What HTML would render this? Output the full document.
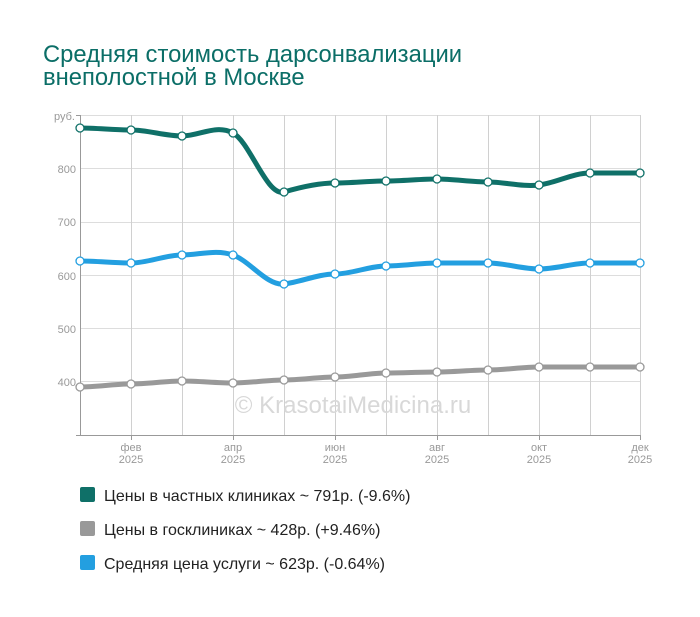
<!DOCTYPE html>
<html><head><meta charset="utf-8"><style>
body{margin:0;background:#fff;width:700px;height:612px;overflow:hidden;font-family:"Liberation Sans",sans-serif}
</style></head><body>
<svg width="700" height="612" xmlns="http://www.w3.org/2000/svg" font-family="Liberation Sans, sans-serif">
<text x="43" y="62" font-size="23.8" fill="#0b6e67">Средняя стоимость дарсонвализации</text>
<text x="43" y="85" font-size="23.8" fill="#0b6e67">внеполостной в Москве</text>
<g stroke="#ddd" stroke-width="1">
<line x1="80" y1="115.5" x2="640" y2="115.5"/><line x1="80" y1="168.5" x2="640" y2="168.5"/><line x1="80" y1="222.5" x2="640" y2="222.5"/><line x1="80" y1="275.5" x2="640" y2="275.5"/><line x1="80" y1="328.5" x2="640" y2="328.5"/><line x1="80" y1="381.5" x2="640" y2="381.5"/>
</g>
<g stroke="#d0d0d0" stroke-width="1">
<line x1="131.5" y1="115" x2="131.5" y2="435"/><line x1="182.5" y1="115" x2="182.5" y2="435"/><line x1="233.5" y1="115" x2="233.5" y2="435"/><line x1="284.5" y1="115" x2="284.5" y2="435"/><line x1="335.5" y1="115" x2="335.5" y2="435"/><line x1="386.5" y1="115" x2="386.5" y2="435"/><line x1="437.5" y1="115" x2="437.5" y2="435"/><line x1="488.5" y1="115" x2="488.5" y2="435"/><line x1="539.5" y1="115" x2="539.5" y2="435"/><line x1="590.5" y1="115" x2="590.5" y2="435"/><line x1="640.5" y1="115" x2="640.5" y2="435"/>
</g>
<g stroke="#999" stroke-width="1">
<line x1="80.5" y1="115" x2="80.5" y2="436"/><line x1="76" y1="435.5" x2="641" y2="435.5"/>
<line x1="76" y1="115.5" x2="80" y2="115.5"/>
<line x1="131.5" y1="435" x2="131.5" y2="440"/><line x1="233.5" y1="435" x2="233.5" y2="440"/><line x1="335.5" y1="435" x2="335.5" y2="440"/><line x1="437.5" y1="435" x2="437.5" y2="440"/><line x1="539.5" y1="435" x2="539.5" y2="440"/><line x1="640.5" y1="435" x2="640.5" y2="440"/>
</g>
<g font-size="11" fill="#999" text-anchor="end">
<text x="75" y="120">руб.</text><text x="76" y="173">800</text><text x="76" y="226">700</text><text x="76" y="280">600</text><text x="76" y="333">500</text><text x="76" y="386">400</text>
</g>
<g font-size="11" fill="#999" text-anchor="middle">
<text x="131" y="451">фев</text><text x="131" y="463">2025</text>
<text x="233" y="451">апр</text><text x="233" y="463">2025</text>
<text x="335" y="451">июн</text><text x="335" y="463">2025</text>
<text x="437" y="451">авг</text><text x="437" y="463">2025</text>
<text x="539" y="451">окт</text><text x="539" y="463">2025</text>
<text x="640" y="451">дек</text><text x="640" y="463">2025</text>
</g>
<text x="353" y="413" font-size="24" fill="#d8d8d8" text-anchor="middle">© KrasotaiMedicina.ru</text>
<g fill="none" stroke-width="5" stroke-linecap="round">
<path stroke="#0f7068" d="M80 128 C97 128 114 130 131 130 S165 136 182 136 S216 124 233 133 S267 197 284 192 S318 183 335 183 S369 181 386 181 S420 179 437 179 S471 182 488 182 S522 187 539 185 S573 173 590 173 S623 173 640 173"/>
<path stroke="#239fe0" d="M80 261 C97 261 114 263 131 263 S165 255 182 255 S216 249 233 255 S267 286 284 284 S318 274 335 274 S369 266 386 266 S420 263 437 263 S471 263 488 263 S522 269 539 269 S573 263 590 263 S623 263 640 263"/>
<path stroke="#999" d="M80 387 C97 387 114 384 131 384 S165 381 182 381 S216 383 233 383 S267 380 284 380 S318 377 335 377 S369 373 386 373 S420 372 437 372 S471 370 488 370 S522 367 539 367 S573 367 590 367 S623 367 640 367"/>
</g>
<g fill="#fff" stroke-width="1.3" stroke="#0f7068">
<circle cx="80" cy="128" r="4"/><circle cx="131" cy="130" r="4"/><circle cx="182" cy="136" r="4"/><circle cx="233" cy="133" r="4"/><circle cx="284" cy="192" r="4"/><circle cx="335" cy="183" r="4"/><circle cx="386" cy="181" r="4"/><circle cx="437" cy="179" r="4"/><circle cx="488" cy="182" r="4"/><circle cx="539" cy="185" r="4"/><circle cx="590" cy="173" r="4"/><circle cx="640" cy="173" r="4"/>
</g>
<g fill="#fff" stroke-width="1.3" stroke="#239fe0">
<circle cx="80" cy="261" r="4"/><circle cx="131" cy="263" r="4"/><circle cx="182" cy="255" r="4"/><circle cx="233" cy="255" r="4"/><circle cx="284" cy="284" r="4"/><circle cx="335" cy="274" r="4"/><circle cx="386" cy="266" r="4"/><circle cx="437" cy="263" r="4"/><circle cx="488" cy="263" r="4"/><circle cx="539" cy="269" r="4"/><circle cx="590" cy="263" r="4"/><circle cx="640" cy="263" r="4"/>
</g>
<g fill="#fff" stroke-width="1.3" stroke="#999">
<circle cx="80" cy="387" r="4"/><circle cx="131" cy="384" r="4"/><circle cx="182" cy="381" r="4"/><circle cx="233" cy="383" r="4"/><circle cx="284" cy="380" r="4"/><circle cx="335" cy="377" r="4"/><circle cx="386" cy="373" r="4"/><circle cx="437" cy="372" r="4"/><circle cx="488" cy="370" r="4"/><circle cx="539" cy="367" r="4"/><circle cx="590" cy="367" r="4"/><circle cx="640" cy="367" r="4"/>
</g>
<rect x="80" y="487" width="15" height="15" rx="2" fill="#0f7068"/>
<rect x="80" y="521" width="15" height="15" rx="2" fill="#999"/>
<rect x="80" y="555" width="15" height="15" rx="2" fill="#239fe0"/>
<g font-size="16" fill="#222">
<text x="104" y="501">Цены в частных клиниках ~ 791р. (-9.6%)</text>
<text x="104" y="535">Цены в госклиниках ~ 428р. (+9.46%)</text>
<text x="104" y="569">Средняя цена услуги ~ 623р. (-0.64%)</text>
</g>
</svg>
</body></html>
